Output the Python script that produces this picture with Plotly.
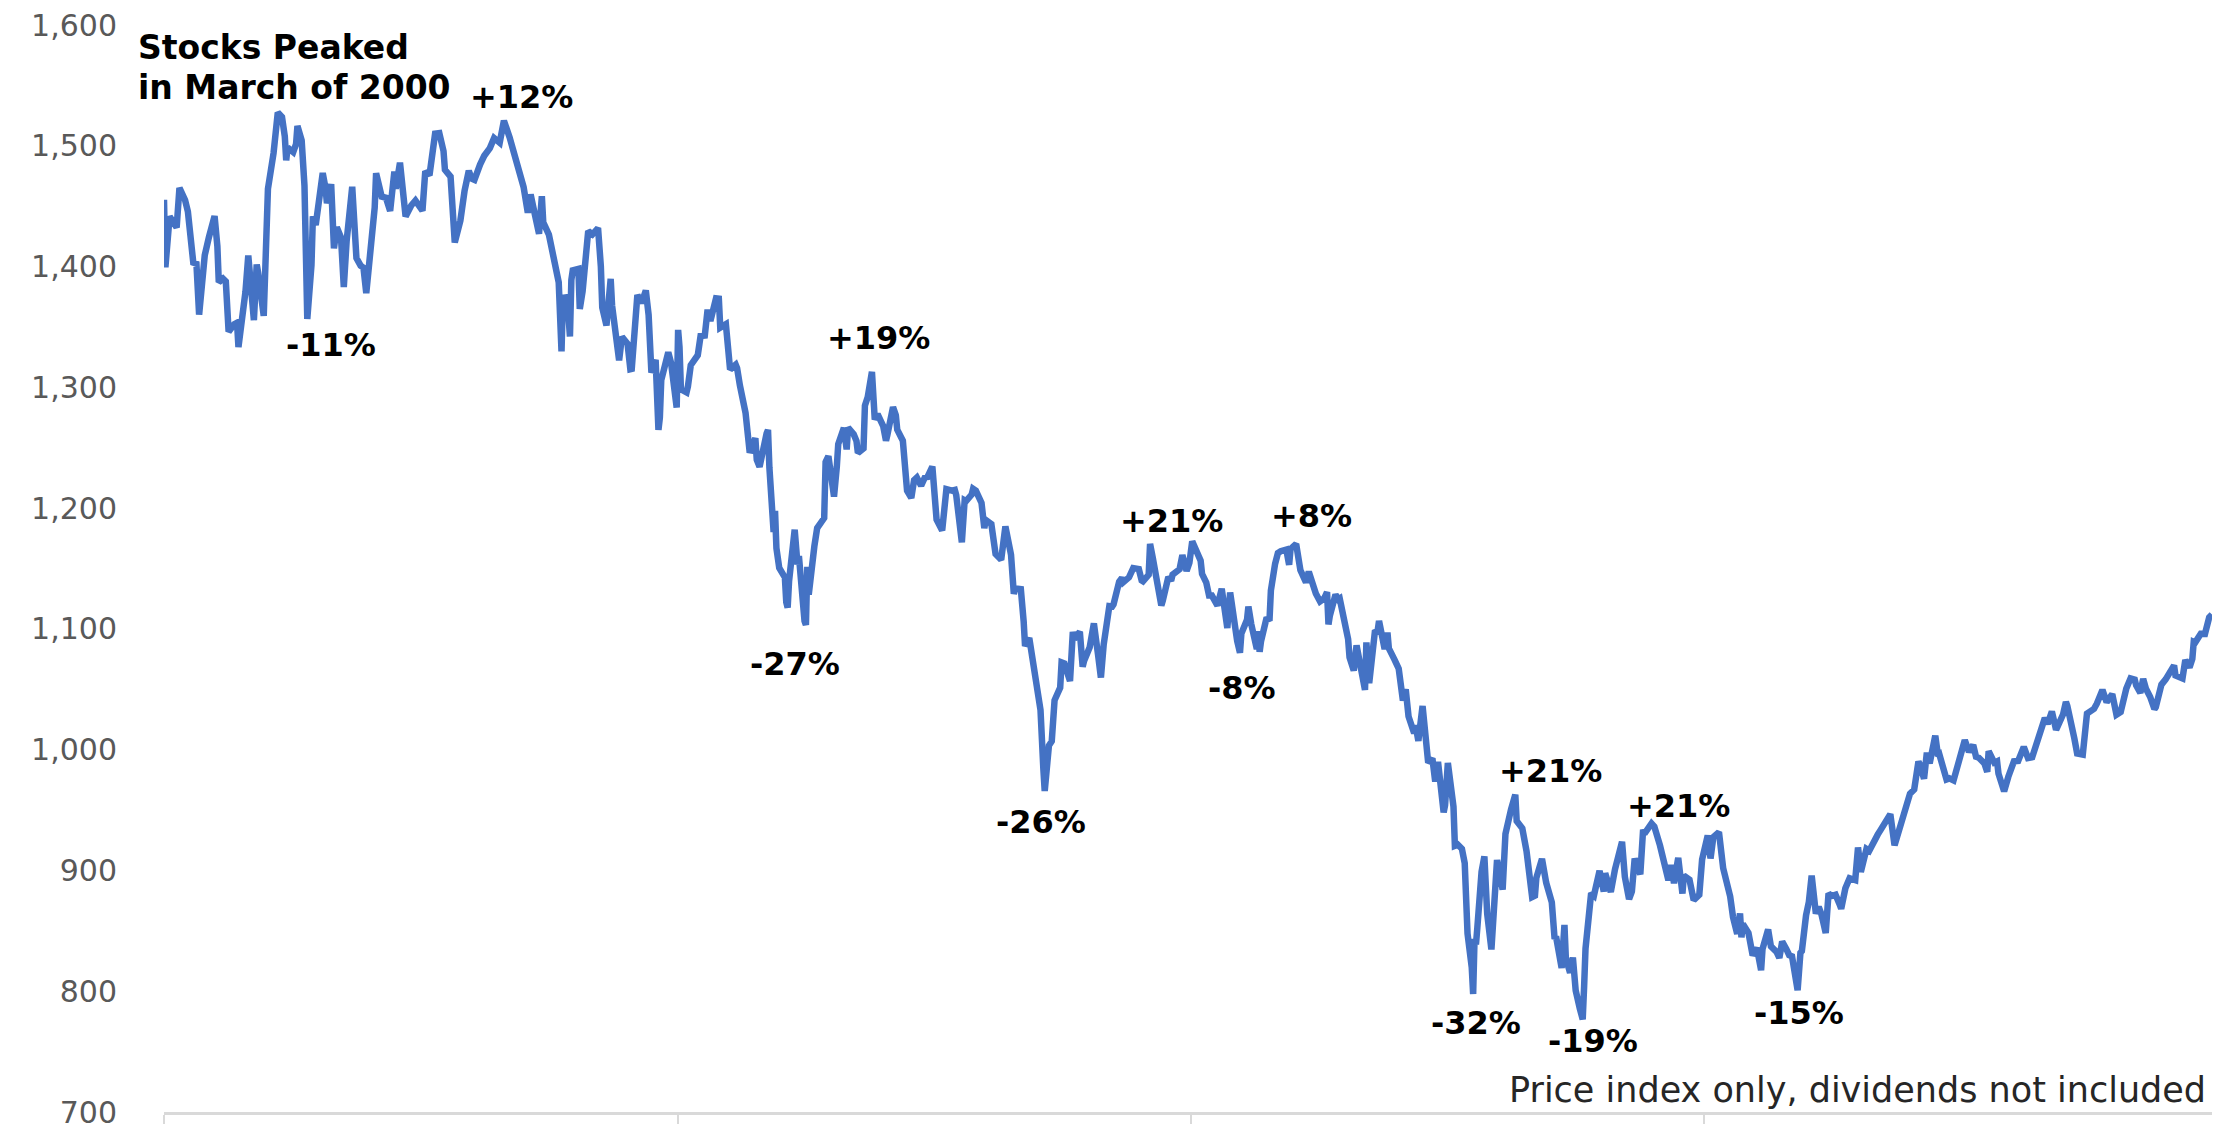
import plotly.graph_objects as go

# ---------------- data: S&P 500 closes ----------------
d2000 = ["01-03","01-04","01-07","01-12","01-14","01-18","01-20","01-24","01-26","01-28",
         "02-01","02-03","02-04","02-08","02-10","02-11","02-14","02-16","02-18","02-22",
         "02-24","02-25","02-29","03-01","03-03","03-07","03-09","03-10","03-14","03-16",
         "03-17","03-21","03-24","03-27","03-29","03-30","03-31","04-04","04-06","04-07",
         "04-10","04-12","04-14","04-17","04-18","04-20","04-25","04-27","04-28","05-01",
         "05-03","05-05","05-08","05-10","05-12","05-16","05-18","05-19","05-22","05-24",
         "05-26","05-30","06-01","06-02","06-06","06-09","06-12","06-15","06-16","06-19",
         "06-22","06-23","06-27","06-30","07-05","07-07","07-10","07-14","07-17","07-20",
         "07-21","07-25","07-28","08-01","08-04","08-07","08-09","08-11","08-15","08-18",
         "08-22","08-25","08-29","09-01","09-05","09-08","09-12","09-15","09-18","09-20",
         "09-22","09-26","09-28","09-29","10-03","10-06","10-10","10-12","10-13","10-16",
         "10-18","10-19","10-20","10-24","10-25","10-27","10-31","11-03","11-07","11-09",
         "11-10","11-13","11-16","11-17","11-20","11-22","11-24","11-28","11-30","12-01",
         "12-05","12-08","12-11","12-13","12-15","12-18","12-20","12-21","12-22","12-27",
         "12-29"]
v2000 = [1455.22,1399.42,1441.47,1432.25,1465.15,1455.14,1445.57,1401.53,1404.09,1360.16,
         1409.28,1424.24,1424.37,1441.72,1416.83,1387.12,1389.94,1387.67,1346.09,1352.17,
         1353.43,1333.36,1366.42,1379.19,1409.17,1355.62,1401.69,1395.07,1359.15,1458.47,
         1464.47,1493.87,1527.46,1523.86,1507.73,1487.92,1498.58,1494.73,1501.34,1516.35,
         1504.46,1467.17,1356.56,1401.44,1441.61,1434.32,1477.44,1464.92,1452.43,1468.25,
         1415.10,1432.63,1424.17,1383.05,1420.96,1466.04,1437.21,1406.95,1400.72,1399.05,
         1378.02,1422.45,1448.81,1477.26,1457.84,1456.95,1446.00,1478.73,1464.46,1486.00,
         1452.18,1441.48,1450.55,1454.60,1446.23,1478.90,1475.62,1509.98,1510.49,1495.57,
         1480.19,1474.47,1419.89,1438.10,1462.93,1479.32,1472.87,1471.84,1484.43,1491.72,
         1498.13,1506.45,1502.59,1520.77,1507.08,1494.50,1481.99,1465.81,1444.51,1459.67,
         1448.72,1427.21,1458.29,1436.51,1426.46,1408.99,1387.02,1329.78,1374.17,1374.62,
         1342.13,1388.76,1396.93,1398.13,1364.90,1379.58,1429.40,1426.69,1431.87,1400.14,
         1365.98,1351.26,1389.81,1367.72,1342.62,1322.36,1341.77,1336.09,1314.95,1315.23,
         1376.54,1369.89,1380.20,1359.99,1312.15,1322.74,1264.74,1274.86,1305.95,1328.92,
         1320.28]

d2001 = ["01-02","01-03","01-04","01-05","01-09","01-10","01-12","01-17","01-19","01-22",
         "01-24","01-26","01-30","02-01","02-02","02-06","02-08","02-09","02-13","02-14",
         "02-16","02-20","02-23","02-27","02-28","03-02","03-07","03-08","03-09","03-12",
         "03-13","03-14","03-16","03-20","03-21","03-22","03-23","03-27","03-29","03-30",
         "04-03","04-04","04-05","04-06","04-10","04-12","04-17","04-18","04-20","04-24",
         "04-26","04-27","05-01","05-03","05-04","05-08","05-10","05-11","05-15","05-16",
         "05-18","05-21","05-23","05-25","05-29","05-31","06-01","06-05","06-07","06-08",
         "06-12","06-14","06-15","06-18","06-20","06-22","06-25","06-28","06-29","07-03",
         "07-06","07-10","07-12","07-13","07-17","07-19","07-20","07-24","07-26","07-27",
         "07-31","08-01","08-03","08-07","08-09","08-10","08-14","08-17","08-21","08-24",
         "08-28","08-30","08-31","09-04","09-06","09-07","09-10","09-17","09-18","09-20",
         "09-21","09-24","09-26","09-28","10-02","10-03","10-05","10-09","10-11","10-12",
         "10-16","10-18","10-19","10-23","10-26","10-29","10-31","11-02","11-06","11-08",
         "11-09","11-13","11-15","11-16","11-20","11-23","11-27","11-29","11-30","12-04",
         "12-05","12-07","12-10","12-13","12-14","12-18","12-20","12-21","12-26","12-28",
         "12-31"]
v2001 = [1283.27,1347.56,1333.34,1298.35,1295.86,1300.80,1318.32,1326.65,1342.54,1342.90,
         1364.30,1354.95,1373.73,1373.47,1349.47,1352.26,1332.53,1314.76,1318.80,1315.92,
         1301.53,1278.94,1245.86,1257.94,1239.94,1234.18,1261.89,1264.74,1233.42,1180.16,
         1197.66,1166.71,1150.53,1142.62,1122.14,1117.58,1139.83,1182.17,1153.29,1160.33,
         1106.46,1103.25,1151.44,1128.43,1168.38,1183.50,1191.81,1238.16,1242.98,1209.47,
         1234.52,1253.05,1266.44,1248.58,1266.61,1261.20,1255.54,1245.67,1249.44,1284.99,
         1291.96,1312.83,1273.36,1277.89,1267.93,1255.82,1260.67,1283.57,1276.96,1264.96,
         1255.85,1219.87,1214.36,1208.43,1223.14,1225.35,1218.60,1226.20,1224.38,1234.45,
         1190.59,1181.52,1208.14,1215.68,1214.44,1215.02,1210.85,1171.65,1206.48,1205.82,
         1211.23,1215.93,1214.35,1204.40,1183.43,1190.16,1186.73,1161.97,1157.26,1184.93,
         1161.51,1129.03,1133.58,1132.94,1106.40,1085.78,1092.54,1038.77,1032.74,984.54,
         965.80,1003.45,1007.04,1040.94,1051.33,1072.28,1071.38,1056.75,1097.43,1091.65,
         1097.54,1068.61,1073.48,1084.78,1104.61,1078.30,1059.78,1087.20,1118.86,1118.54,
         1120.31,1139.09,1142.24,1138.65,1142.66,1150.34,1149.50,1140.20,1139.45,1144.80,
         1170.35,1158.31,1139.93,1119.38,1123.09,1142.92,1139.93,1144.89,1149.37,1161.02,
         1148.08]

d2002 = ["01-02","01-04","01-08","01-10","01-11","01-14","01-16","01-18","01-22","01-24",
         "01-25","01-29","01-31","02-01","02-04","02-05","02-07","02-08","02-12","02-13",
         "02-15","02-19","02-20","02-21","02-22","02-26","02-28","03-01","03-04","03-06",
         "03-08","03-12","03-14","03-15","03-19","03-21","03-22","03-26","03-28","04-02",
         "04-04","04-05","04-08","04-10","04-11","04-12","04-16","04-18","04-19","04-23",
         "04-25","04-26","04-29","05-01","05-03","05-06","05-07","05-08","05-10","05-14",
         "05-16","05-17","05-21","05-23","05-24","05-28","05-31","06-03","06-05","06-07",
         "06-11","06-12","06-14","06-17","06-19","06-21","06-24","06-26","06-28","07-02",
         "07-03","07-05","07-09","07-10","07-12","07-15","07-17","07-19","07-22","07-23",
         "07-24","07-25","07-26","07-29","07-31","08-02","08-05","08-07","08-09","08-13",
         "08-15","08-19","08-22","08-23","08-27","08-30","09-03","09-05","09-06","09-10",
         "09-13","09-17","09-19","09-20","09-24","09-26","09-27","09-30","10-02","10-04",
         "10-07","10-09","10-10","10-11","10-15","10-17","10-18","10-21","10-24","10-25",
         "10-29","11-01","11-06","11-08","11-11","11-13","11-15","11-19","11-21","11-22",
         "11-27","11-29","12-03","12-06","12-09","12-11","12-13","12-16","12-19","12-20",
         "12-24","12-27","12-31"]
v2002 = [1154.67,1172.51,1160.71,1156.55,1145.60,1138.41,1127.57,1127.58,1119.31,1132.15,
         1133.28,1100.64,1130.20,1122.20,1094.44,1090.02,1080.17,1096.22,1107.50,1118.51,
         1104.18,1083.34,1097.98,1080.95,1089.84,1109.38,1106.73,1131.78,1153.84,1162.77,
         1164.31,1165.58,1153.04,1166.16,1170.29,1153.59,1148.70,1138.49,1147.39,1129.34,
         1126.34,1122.73,1125.29,1130.47,1103.69,1111.01,1128.37,1124.47,1125.17,1100.17,
         1091.48,1076.32,1065.45,1086.46,1073.43,1052.67,1049.49,1088.85,1054.99,1097.28,
         1098.23,1106.59,1083.34,1097.08,1083.82,1074.55,1067.14,1040.68,1049.90,1027.53,
         1013.60,1020.26,1007.27,1036.17,1006.86,989.14,992.72,973.53,989.82,948.09,
         953.99,989.03,952.83,920.47,921.39,917.93,906.04,847.75,819.85,797.70,
         843.43,838.68,852.84,898.96,911.62,864.24,834.60,876.77,908.64,884.21,
         930.25,950.70,962.70,940.86,934.82,916.07,878.02,879.15,893.92,909.58,
         889.81,873.52,843.32,845.39,819.29,854.95,827.37,815.28,827.91,800.58,
         785.28,776.76,803.92,835.32,881.27,879.20,884.39,899.72,882.50,897.65,
         882.15,900.96,923.76,894.74,876.19,882.53,909.83,896.74,933.76,930.55,
         938.87,936.31,920.75,906.55,892.00,904.45,889.48,910.40,880.90,895.76,
         892.47,875.40,879.82]

d2003 = ["01-02","01-06","01-08","01-10","01-14","01-16","01-17","01-22","01-24","01-27",
         "01-29","01-30","01-31","02-04","02-07","02-10","02-12","02-13","02-14","02-18",
         "02-20","02-24","02-26","02-28","03-03","03-05","03-07","03-10","03-11","03-13",
         "03-14","03-17","03-19","03-21","03-24","03-26","03-28","03-31","04-02","04-04",
         "04-07","04-10","04-11","04-14","04-17","04-21","04-23","04-25","04-29","05-01",
         "05-05","05-07","05-09","05-13","05-16","05-19","05-22","05-28","05-30","06-02",
         "06-05","06-06","06-09","06-11","06-13","06-17","06-19","06-20","06-25","06-27",
         "06-30","07-03","07-08","07-11","07-14","07-16","07-18","07-22","07-24","07-25",
         "07-29","07-31","08-01","08-05","08-07","08-08","08-12","08-15","08-19","08-22",
         "08-25","08-29","09-03","09-05","09-08","09-11","09-12","09-16","09-18","09-19",
         "09-24","09-26","09-30","10-02","10-03","10-08","10-10","10-14","10-17","10-21",
         "10-24","10-27","10-31","11-03","11-06","11-07","11-10","11-12","11-14","11-17",
         "11-20","11-21","11-25","11-28","12-02","12-04","12-05","12-10","12-12","12-15",
         "12-17","12-18","12-19","12-23","12-26","12-29","12-31"]
v2003 = [909.03,929.01,909.93,927.57,931.66,914.60,901.78,878.36,861.40,847.48,
         864.36,844.61,855.70,848.20,829.69,835.97,818.68,817.37,834.89,851.17,
         837.10,832.58,827.55,841.15,834.81,829.85,828.89,807.48,800.73,831.90,
         833.27,862.79,874.02,895.79,864.23,869.95,863.50,848.18,880.90,878.85,
         879.93,871.58,868.30,885.23,893.58,892.01,919.02,898.81,917.84,916.30,
         926.55,929.62,933.41,942.30,946.67,920.77,933.22,953.22,963.59,967.00,
         990.14,987.76,975.93,997.48,988.61,1011.66,994.70,995.69,975.32,976.22,
         974.50,985.70,1007.84,998.14,1003.86,994.09,993.32,988.61,981.60,998.68,
         989.28,990.31,980.15,965.46,974.12,977.59,990.35,990.67,1002.35,993.06,
         993.71,1008.01,1026.27,1021.39,1031.64,1016.42,1018.63,1029.32,1039.58,1036.30,
         1009.38,996.85,995.97,1020.24,1029.85,1033.78,1038.06,1049.48,1039.32,1046.03,
         1028.91,1031.13,1050.71,1059.02,1058.05,1053.21,1047.11,1058.53,1050.35,1043.63,
         1033.65,1035.28,1053.89,1058.20,1066.62,1069.72,1061.50,1059.05,1074.14,1068.04,
         1075.13,1089.18,1088.66,1096.02,1095.89,1109.48,1111.92]

# annotation labels: (text, page-pixel x, page-pixel y) positions
swing_labels = ["+12%", "-11%", "+19%", "-27%", "+21%", "+8%", "-8%", "-26%",
                "+21%", "+21%", "-32%", "-19%", "-15%"]
label_px = [(521, 97), (331, 345), (878, 338), (795, 664), (1171, 521), (1311, 516),
            (1242, 688), (1041, 822), (1550, 771), (1678, 806), (1476, 1023),
            (1593, 1041), (1799, 1013)]

y_ticks = [700, 800, 900, 1000, 1100, 1200, 1300, 1400, 1500, 1600]

# ---------------- build series ----------------
dates, vals = [], []
for yr, ds, vs in [(2000, d2000, v2000), (2001, d2001, v2001),
                   (2002, d2002, v2002), (2003, d2003, v2003)]:
    dates += [f"{yr}-{d}" for d in ds]
    vals += vs

W, H = 2234, 1129
OFF = 8  # page body margin
# plot area in page pixels: x 164..2212, y 25..1112
L = 164 - OFF
T = 25 - OFF
R = W - (2212 - OFF)
B = H - (1112 - OFF)
PW, PH = W - L - R, H - T - B


def px(xp, yp):
    xf, yf = xp - OFF, yp - OFF
    return (xf - L) / PW, (H - B - yf) / PH


fig = go.Figure()
fig.add_trace(go.Scatter(x=dates, y=vals, mode="lines",
                         line=dict(color="#4472C4", width=6.5), hoverinfo="skip",
                         showlegend=False))

annos = []
bold = dict(family="DejaVu Sans", size=32, color="#000000", weight="bold")
for txt, (xp, yp) in zip(swing_labels, label_px):
    xx, yy = px(xp, yp)
    annos.append(dict(text=txt, x=xx, y=yy, xref="paper", yref="paper",
                      xanchor="center", yanchor="middle", showarrow=False, font=bold))

for txt, yp in [("Stocks Peaked", 47), ("in March of 2000", 87)]:
    xx, yy = px(136, yp)
    annos.append(dict(text=txt, x=xx, y=yy, xref="paper", yref="paper",
                      xanchor="left", yanchor="middle", showarrow=False,
                      font=dict(family="DejaVu Sans", size=33, color="#000000", weight="bold")))

xx, yy = px(2208, 1090)
annos.append(dict(text="Price index only, dividends not included", x=xx, y=yy,
                  xref="paper", yref="paper", xanchor="right", yanchor="middle",
                  showarrow=False,
                  font=dict(family="DejaVu Sans", size=35, color="#262626")))

fig.update_layout(
    width=W, height=H, autosize=False,
    margin=dict(l=L, r=R, t=T, b=B, pad=0, autoexpand=False),
    plot_bgcolor="white", paper_bgcolor="white",
    annotations=annos,
    xaxis=dict(type="date", range=["2000-01-03", "2003-12-31"],
               tick0="2000-01-03", dtick="M12",
               showgrid=False, zeroline=False, showline=True,
               linecolor="#d9d9d9", linewidth=3,
               ticks="outside", ticklen=9, tickwidth=2, tickcolor="#d9d9d9",
               showticklabels=False),
    yaxis=dict(range=[700, 1600], tickvals=y_ticks, tickformat=",",
               showgrid=False, zeroline=False, showline=False, ticks="",
               ticklabelstandoff=46, ticklabeloverflow="allow",
               tickfont=dict(family="DejaVu Sans", size=30, color="#595959")),
)

fig.write_html("out.html")
